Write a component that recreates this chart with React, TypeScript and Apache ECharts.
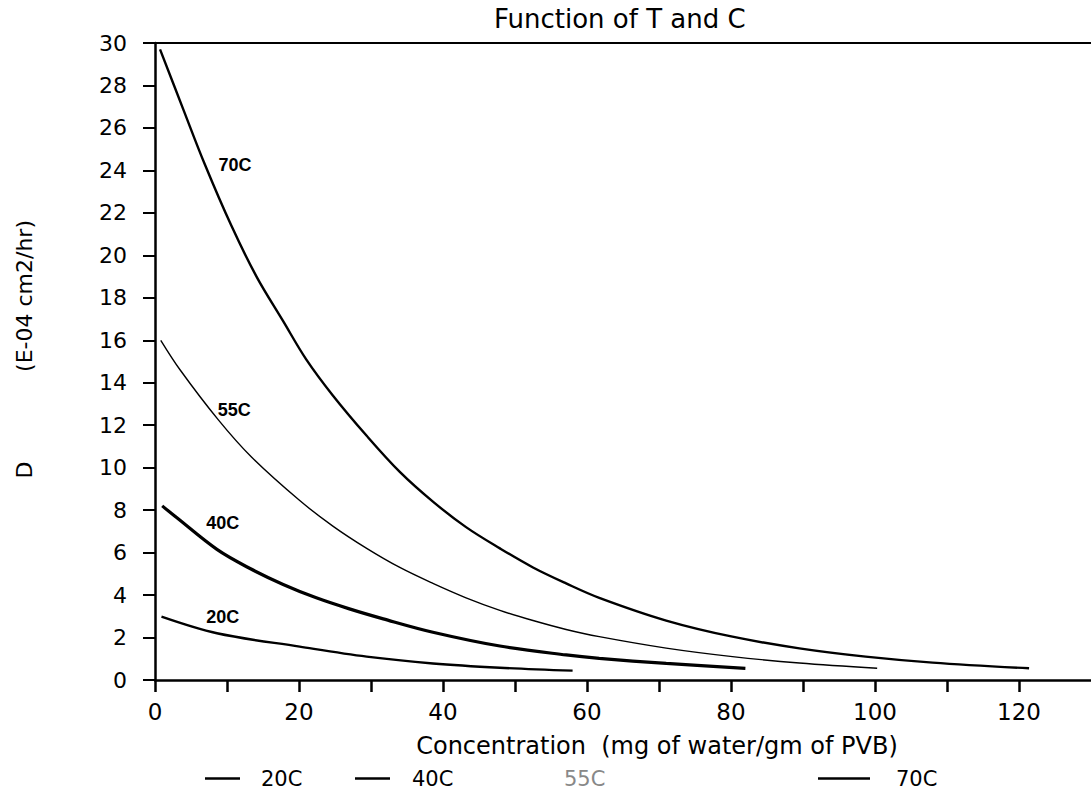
import { useEffect, useRef } from "react";
import * as echarts from "echarts";

// Diffusion coefficient D (E-04 cm2/hr) against water concentration, per temperature
const seriesNames = ["20C", "40C", "55C", "70C"];

const conc20 = [0.9, 8.6, 20.1, 29.4, 38.6, 47.9, 58.0];
const diff20 = [2.98, 2.2, 1.57, 1.1, 0.78, 0.58, 0.44];

const conc40 = [1.0, 3.0, 8.6, 13.2, 17.8, 22.4, 27.0, 31.7, 38.6, 47.9, 57.1, 61.7, 71.0, 82.0];
const diff40 = [8.2, 7.65, 6.15, 5.25, 4.5, 3.87, 3.35, 2.88, 2.25, 1.6, 1.18, 1.02, 0.78, 0.55];

const conc55 = [0.8, 3.5, 8.8, 13.4, 20.1, 24.7, 29.4, 34.0, 38.6, 43.2, 47.9, 52.5, 57.1, 61.7, 71.0, 80.2, 89.5, 100.3];
const diff55 = [16.0, 14.6, 12.25, 10.5, 8.45, 7.25, 6.2, 5.3, 4.55, 3.87, 3.28, 2.8, 2.38, 2.04, 1.5, 1.1, 0.8, 0.55];

const conc70 = [0.7, 3.9, 6.9, 10.6, 14.1, 17.8, 21.0, 24.7, 29.4, 34.0, 38.6, 43.2, 47.9, 52.5, 57.1, 61.7, 71.0, 80.2, 89.5, 98.7, 108.0, 121.4];
const diff70 = [29.7, 26.9, 24.3, 21.4, 19.0, 16.9, 15.1, 13.4, 11.5, 9.8, 8.4, 7.2, 6.2, 5.3, 4.55, 3.87, 2.8, 2.04, 1.49, 1.1, 0.82, 0.55];

// where each curve's temperature tag sits, in data units
const tagConc = [9.4, 9.4, 11.0, 11.1];
const tagDiff = [2.99, 7.4, 12.7, 24.25];

const xMin = 0;
const xMax = 130;
const xStep = 10;
const yMin = 0;
const yMax = 30;
const yStep = 2;

const FONT = "'DejaVu Sans', sans-serif";
const TAG_FONT = "'Liberation Sans Narrow', 'Liberation Sans', sans-serif";

const pairs = (xs: number[], ys: number[]) => xs.map((x, i) => [x, ys[i]]);

export default function App() {
  const ref = useRef<HTMLDivElement>(null);

  useEffect(() => {
    const chart = echarts.init(ref.current!, null, { renderer: "svg" });

    const curves = [
      { name: seriesNames[0], data: pairs(conc20, diff20), width: 2.4 },
      { name: seriesNames[1], data: pairs(conc40, diff40), width: 3.2 },
      { name: seriesNames[2], data: pairs(conc55, diff55), width: 1.4 },
      { name: seriesNames[3], data: pairs(conc70, diff70), width: 2.4 },
    ];

    const legendLeft = [200, 350, 500, 813];
    const legendIconW = [35, 35, 35, 52];
    const legendPad = [16, 17, 19, 21];

    chart.setOption({
      animation: false,
      backgroundColor: "#fff",
      title: {
        text: "Function of T and C",
        left: 489,
        top: 1,
        textStyle: { fontFamily: FONT, fontSize: 26, fontWeight: "normal", color: "#000" },
      },
      grid: { left: 155, right: -1, top: 43, bottom: 114, containLabel: false },
      xAxis: [
        {
          type: "value",
          min: xMin,
          max: xMax,
          interval: xStep,
          name: "Concentration  (mg of water/gm of PVB)",
          nameLocation: "middle",
          nameGap: 54,
          nameTextStyle: {
            fontFamily: FONT,
            fontSize: 24,
            color: "#000",
            padding: [0, 0, 0, 68],
          },
          axisLine: { show: true, onZero: false, lineStyle: { color: "#000", width: 2.5 } },
          axisTick: { show: true, inside: false, length: 12, lineStyle: { color: "#000", width: 2.5 } },
          axisLabel: {
            margin: 20,
            fontFamily: FONT,
            fontSize: 23,
            color: "#000",
            showMaxLabel: false,
            formatter: (v: number) => (v % 20 === 0 ? String(v) : ""),
          },
          splitLine: { show: false },
        },
        {
          type: "value",
          position: "top",
          min: xMin,
          max: xMax,
          axisLine: { show: true, onZero: false, lineStyle: { color: "#000", width: 2 } },
          axisTick: { show: false },
          axisLabel: { show: false },
          splitLine: { show: false },
        },
      ],
      yAxis: {
        type: "value",
        min: yMin,
        max: yMax,
        interval: yStep,
        axisLine: { show: true, onZero: false, lineStyle: { color: "#000", width: 2.5 } },
        axisTick: { show: true, inside: false, length: 12, lineStyle: { color: "#000", width: 2 } },
        axisLabel: { margin: 28, fontFamily: FONT, fontSize: 22, color: "#000" },
        splitLine: { show: false },
      },
      legend: curves.map((c, i) => ({
        data: [{ name: c.name, icon: "rect" }],
        left: legendLeft[i],
        top: 763,
        itemWidth: legendIconW[i],
        itemHeight: 2.5,
        selectedMode: false,
        itemStyle: i === 2 ? { opacity: 0 } : { color: "#000" },
        textStyle: {
          fontFamily: FONT,
          fontSize: 21,
          color: i === 2 ? "#888" : "#000",
          padding: [0, 0, 0, legendPad[i]],
        },
      })),
      graphic: [
        {
          type: "text",
          x: 24,
          y: 470,
          rotation: Math.PI / 2,
          style: {
            text: "D",
            fontFamily: FONT,
            fontSize: 22,
            fill: "#000",
            align: "center",
            verticalAlign: "middle",
            textAlign: "center",
            textVerticalAlign: "middle",
          },
        },
        {
          type: "text",
          x: 24,
          y: 296,
          rotation: Math.PI / 2,
          style: {
            text: "(E-04 cm2/hr)",
            fontFamily: FONT,
            fontSize: 22,
            fill: "#000",
            align: "center",
            verticalAlign: "middle",
            textAlign: "center",
            textVerticalAlign: "middle",
          },
        },
      ],
      series: curves.map((c, i) => ({
        name: c.name,
        type: "line",
        data: c.data,
        smooth: 0.35,
        symbol: "none",
        color: "#000",
        lineStyle: { color: "#000", width: c.width },
        markPoint: {
          symbol: "circle",
          symbolSize: 1,
          itemStyle: { color: "rgba(0,0,0,0)" },
          label: {
            show: true,
            position: "inside",
            formatter: c.name,
            fontFamily: TAG_FONT,
            fontWeight: "bold",
            fontSize: 18,
            color: "#000",
          },
          data: [{ coord: [tagConc[i], tagDiff[i]] }],
        },
      })),
    });

    return () => chart.dispose();
  }, []);

  return (
    <div
      ref={ref}
      style={{ position: "fixed", left: 0, top: 0, width: 1091, height: 794, background: "#fff" }}
    />
  );
}
